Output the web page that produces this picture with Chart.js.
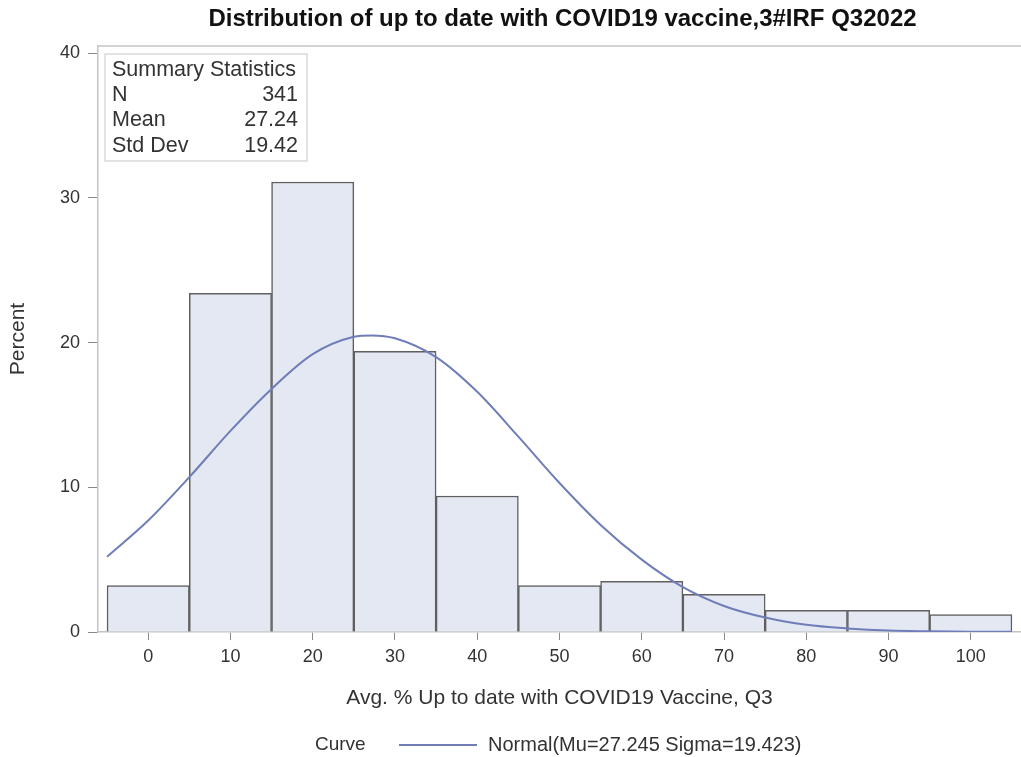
<!DOCTYPE html>
<html>
<head>
<meta charset="utf-8">
<script src="https://cdn.jsdelivr.net/npm/chart.js@4"></script>
<style>
  body { margin: 0; background: #fff; }
</style>
</head>
<body>
<canvas id="histChart" width="1021" height="757"></canvas>
<script>
// histogram: bin midpoints and percent of facilities in each bin
const binMids = [0, 10, 20, 30, 40, 50, 60, 70, 80, 90, 100];
const binPercents = [3.2, 23.4, 31.1, 19.4, 9.4, 3.2, 3.5, 2.6, 1.5, 1.5, 1.2];

// fitted normal curve
const curveX = [-5, 0, 5, 10, 15, 20, 25, 27.2, 30, 35, 40, 45, 50, 55, 60, 65, 70, 75, 80, 85, 90, 95, 100, 105];
const curveY = [5.2, 7.7, 10.7, 13.9, 16.8, 19.2, 20.4, 20.5, 20.3, 19.0, 16.6, 13.5, 10.3, 7.4, 5.0, 3.1, 1.8, 1.0, 0.5, 0.25, 0.1, 0.05, 0.02, 0.01];

// summary statistics inset
const statTitle = "Summary Statistics";
const statLabels = ["N", "Mean", "Std Dev"];
const statValues = ["341", "27.24", "19.42"];

// tick labels
const xTicks = [0, 10, 20, 30, 40, 50, 60, 70, 80, 90, 100];
const yTicks = [0, 10, 20, 30, 40];

const chartTitle = 'Distribution of up to date with COVID19 vaccine,3#IRF Q32022';

const FONT = '"Liberation Sans", Arial, sans-serif';
const TEXT = '#333';

// draws the title (centred on the plot), the frame top, the stats inset and the legend
const sasExtras = {
  id: 'sasExtras',
  afterDraw(chart) {
    const { ctx, chartArea } = chart;
    ctx.save();

    ctx.fillStyle = '#111';
    ctx.font = 'bold 24px ' + FONT;
    ctx.textAlign = 'center';
    ctx.textBaseline = 'middle';
    ctx.fillText(chartTitle, (chartArea.left + chartArea.right) / 2 + 3, 19);

    ctx.strokeStyle = '#c4c4c4';
    ctx.lineWidth = 1.5;
    ctx.beginPath();
    ctx.moveTo(chartArea.left, chartArea.top);
    ctx.lineTo(chartArea.right, chartArea.top);
    ctx.stroke();

    // stats inset
    const bx = chartArea.left + 7, by = chartArea.top + 8;
    ctx.strokeStyle = '#cfcfcf';
    ctx.lineWidth = 1.2;
    ctx.strokeRect(bx, by, 202, 107);
    ctx.fillStyle = TEXT;
    ctx.font = '21.5px ' + FONT;
    ctx.textAlign = 'left';
    ctx.fillText(statTitle, bx + 7, by + 16);
    statLabels.forEach((lab, i) => {
      const y = by + 41 + i * 25.5;
      ctx.textAlign = 'left';
      ctx.fillText(lab, bx + 7, y);
      ctx.textAlign = 'right';
      ctx.fillText(statValues[i], bx + 193, y);
    });

    // legend
    const ly = 745;
    ctx.textAlign = 'left';
    ctx.font = '19px ' + FONT;
    ctx.fillText('Curve', 315, ly);
    ctx.strokeStyle = '#6f7db8';
    ctx.lineWidth = 2;
    ctx.beginPath();
    ctx.moveTo(399, ly);
    ctx.lineTo(477, ly);
    ctx.stroke();
    ctx.font = '20px ' + FONT;
    ctx.fillText(chart.data.datasets[1].label, 488, ly);

    ctx.restore();
  }
};

const ctx = document.getElementById('histChart').getContext('2d');
new Chart(ctx, {
  type: 'bar',
  data: {
    datasets: [{
      type: 'bar',
      label: 'Percent',
      data: binMids.map((m, i) => ({ x: m, y: binPercents[i] })),
      backgroundColor: '#e4e8f2',
      borderColor: '#5f5f5f',
      borderWidth: 1.5,
      barPercentage: 1,
      categoryPercentage: 1,
      order: 2
    }, {
      type: 'line',
      label: 'Normal(Mu=27.245 Sigma=19.423)',
      data: curveX.map((x, i) => ({ x: x, y: curveY[i] })),
      borderColor: '#6f7db8',
      borderWidth: 2,
      pointRadius: 0,
      cubicInterpolationMode: 'monotone',
      fill: false,
      order: 1
    }]
  },
  options: {
    responsive: false,
    animation: false,
    layout: { padding: { left: 0, right: 0, top: 46, bottom: 35 } },
    plugins: {
      legend: { display: false },
      tooltip: { enabled: false },
      title: { display: false }
    },
    scales: {
      x: {
        type: 'linear',
        min: -6.1,
        max: 106.1,
        offset: false,
        afterBuildTicks: (axis) => { axis.ticks = xTicks.map(v => ({ value: v })); },
        afterFit: (scale) => { scale.height = 90; },
        grid: { offset: false, drawOnChartArea: false, drawTicks: true, tickLength: 8, color: '#8a8a8a' },
        border: { display: true, color: '#c4c4c4', width: 1.5 },
        ticks: { color: TEXT, font: { family: FONT, size: 18 }, padding: 6, maxRotation: 0 },
        title: {
          display: true,
          text: 'Avg. % Up to date with COVID19 Vaccine, Q3',
          color: TEXT,
          font: { family: FONT, size: 21 },
          padding: { top: 6, bottom: 11 }
        }
      },
      y: {
        type: 'linear',
        min: 0,
        max: 40.5,
        afterBuildTicks: (axis) => { axis.ticks = yTicks.map(v => ({ value: v })); },
        afterFit: (scale) => { scale.width = 98; },
        grid: { drawOnChartArea: false, drawTicks: true, tickLength: 10, color: '#8a8a8a' },
        border: { display: true, color: '#c4c4c4', width: 1.5 },
        ticks: { color: TEXT, font: { family: FONT, size: 18 }, padding: 8 },
        title: {
          display: true,
          text: 'Percent',
          color: TEXT,
          font: { family: FONT, size: 21 },
          padding: { top: 6, bottom: 0 }
        }
      }
    }
  },
  plugins: [sasExtras]
});
</script>
</body>
</html>
